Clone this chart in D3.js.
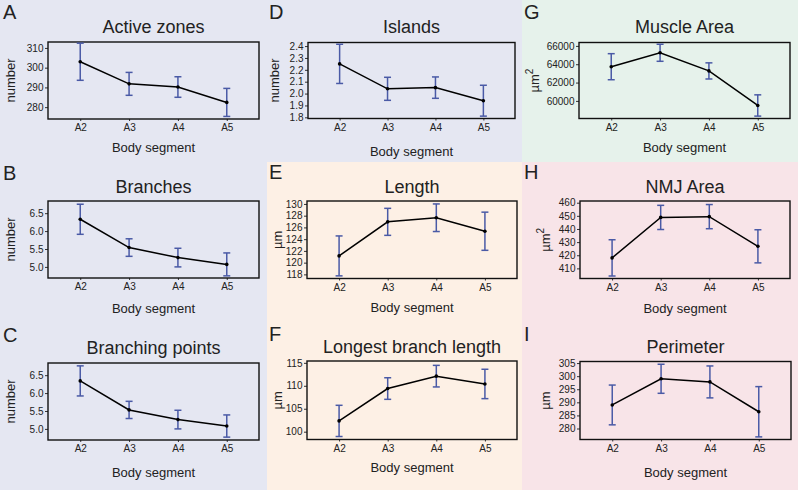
<!DOCTYPE html>
<html>
<head>
<meta charset="utf-8">
<script src="https://cdn.jsdelivr.net/npm/d3@7"></script>
<style>
  html, body { margin: 0; padding: 0; background: #fff; }
  svg { display: block; font-family: "Liberation Sans", Arial, Helvetica, sans-serif; }
</style>
</head>
<body>
<svg id="chart" width="798" height="490"></svg>
<script>
// ---------- DATA ----------
const segments = ["A2", "A3", "A4", "A5"];

const activeZonesMean = [303, 291.8, 290.2, 282.4];
const activeZonesErr  = [9.4, 5.8, 5.2, 7.1];
const activeZonesTicks = [280, 290, 300, 310];

const branchesMean = [6.33, 5.54, 5.26, 5.07];
const branchesErr  = [0.42, 0.245, 0.26, 0.32];
const branchesTicks = [5.0, 5.5, 6.0, 6.5];

const branchingPointsMean = [6.34, 5.53, 5.26, 5.08];
const branchingPointsErr  = [0.42, 0.24, 0.26, 0.31];
const branchingPointsTicks = [5.0, 5.5, 6.0, 6.5];

const islandsMean = [2.25, 2.04, 2.05, 1.94];
const islandsErr  = [0.165, 0.097, 0.09, 0.13];
const islandsTicks = [1.8, 1.9, 2.0, 2.1, 2.2, 2.3, 2.4];

const lengthMean = [121.15, 126.95, 127.65, 125.35];
const lengthErr  = [3.4, 2.3, 2.35, 3.25];
const lengthTicks = [118, 120, 122, 124, 126, 128, 130];

const longestBranchMean = [102.35, 109.4, 112.1, 110.4];
const longestBranchErr  = [3.4, 2.35, 2.35, 3.2];
const longestBranchTicks = [100, 105, 110, 115];

const muscleAreaMean = [63730, 65250, 63270, 59500];
const muscleAreaErr  = [1420, 930, 880, 1160];
const muscleAreaTicks = [60000, 62000, 64000, 66000];

const nmjAreaMean = [418, 448.8, 449.4, 426.8];
const nmjAreaErr  = [13.8, 9.2, 9.2, 12.6];
const nmjAreaTicks = [410, 420, 430, 440, 450, 460];

const perimeterMean = [289, 299, 297.8, 286.4];
const perimeterErr  = [7.6, 5.55, 6.1, 9.6];
const perimeterTicks = [280, 285, 290, 295, 300, 305];

// ---------- LAYOUT ----------
const svg = d3.select("#chart");

const backgrounds = [
  { x: 0,   y: 0,   w: 267, h: 490, fill: "#e5e7f2" },
  { x: 267, y: 0,   w: 255, h: 162, fill: "#e5e7f2" },
  { x: 267, y: 162, w: 255, h: 328, fill: "#fdf0e5" },
  { x: 522, y: 0,   w: 276, h: 162, fill: "#e6f2eb" },
  { x: 522, y: 162, w: 276, h: 328, fill: "#f8e4e8" }
];
svg.selectAll("rect.bg").data(backgrounds).join("rect")
  .attr("class", "bg")
  .attr("x", d => d.x).attr("y", d => d.y)
  .attr("width", d => d.w).attr("height", d => d.h)
  .attr("fill", d => d.fill);

const panels = [
  { letter: "A", title: "Active zones", ylab: "number", mean: activeZonesMean, err: activeZonesErr,
    ticks: activeZonesTicks, fmt: d3.format("d"), domain: [274, 313],
    box: [48, 42, 259, 119], lx: 3, ly: 19, ylx: 10, xly: 152, ty: 33 },
  { letter: "B", title: "Branches", ylab: "number", mean: branchesMean, err: branchesErr,
    ticks: branchesTicks, fmt: d3.format(".1f"), domain: [4.69, 6.84],
    box: [48, 201, 259, 278], lx: 3, ly: 180, ylx: 10, xly: 313, ty: 193 },
  { letter: "C", title: "Branching points", ylab: "number", mean: branchingPointsMean, err: branchingPointsErr,
    ticks: branchingPointsTicks, fmt: d3.format(".1f"), domain: [4.69, 6.84],
    box: [48, 363, 259, 440], lx: 3, ly: 342, ylx: 10, xly: 477, ty: 354 },
  { letter: "D", title: "Islands", ylab: "number", mean: islandsMean, err: islandsErr,
    ticks: islandsTicks, fmt: d3.format(".1f"), domain: [1.79, 2.43],
    box: [308, 42.5, 515, 118.5], lx: 269, ly: 19, ylx: 274, xly: 156, ty: 33 },
  { letter: "E", title: "Length", ylab: "µm", mean: lengthMean, err: lengthErr,
    ticks: lengthTicks, fmt: d3.format("d"), domain: [117.3, 130.5],
    box: [307, 201, 517, 278.5], lx: 269, ly: 179, ylx: 277, xly: 312, ty: 193 },
  { letter: "F", title: "Longest branch length", ylab: "µm", mean: longestBranchMean, err: longestBranchErr,
    ticks: longestBranchTicks, fmt: d3.format("d"), domain: [98.3, 115.4],
    box: [307, 361, 517, 439.5], lx: 269, ly: 341, ylx: 277, xly: 472, ty: 353 },
  { letter: "G", title: "Muscle Area", ylab: "µm", sup: "2", mean: muscleAreaMean, err: muscleAreaErr,
    ticks: muscleAreaTicks, fmt: d3.format("d"), domain: [58080, 66370],
    box: [579, 42.5, 790, 118.5], lx: 524, ly: 19, ylx: 534, xly: 152, ty: 33 },
  { letter: "H", title: "NMJ Area", ylab: "µm", sup: "2", mean: nmjAreaMean, err: nmjAreaErr,
    ticks: nmjAreaTicks, fmt: d3.format("d"), domain: [402.3, 461.3],
    box: [580, 201, 790, 278.5], lx: 524, ly: 179, ylx: 545, xly: 313, ty: 193 },
  { letter: "I", title: "Perimeter", ylab: "µm", mean: perimeterMean, err: perimeterErr,
    ticks: perimeterTicks, fmt: d3.format("d"), domain: [275.8, 305.6],
    box: [580, 361.5, 791, 439.5], lx: 524, ly: 341, ylx: 545, xly: 477, ty: 353 }
];

const errColor = "#4a5aa6";

panels.forEach(p => {
  const [x0, y0, x1, y1] = p.box;
  const g = svg.append("g");

  const x = d3.scalePoint().domain(segments).range([x0, x1]).padding(0.66);
  const y = d3.scaleLinear().domain(p.domain).range([y1, y0]);

  // panel letter
  g.append("text").attr("x", p.lx).attr("y", p.ly)
    .attr("font-size", 20).attr("fill", "#222").text(p.letter);

  // title
  g.append("text").attr("x", (x0 + x1) / 2).attr("y", p.ty)
    .attr("text-anchor", "middle").attr("font-size", 18).attr("fill", "#222").text(p.title);

  // y axis
  const yAxis = g.append("g").attr("transform", `translate(${x0},0)`)
    .call(d3.axisLeft(y).tickValues(p.ticks).tickFormat(p.fmt).tickSize(3).tickPadding(1.5));
  yAxis.select(".domain").remove();
  yAxis.selectAll("text").attr("font-size", 10).attr("fill", "#222")
    .attr("font-family", "Liberation Sans, Arial, sans-serif");
  yAxis.selectAll("line").attr("stroke", "#333");

  // x axis
  const xAxis = g.append("g").attr("transform", `translate(0,${y1})`)
    .call(d3.axisBottom(x).tickSize(2).tickPadding(3));
  xAxis.select(".domain").remove();
  xAxis.selectAll("text").attr("font-size", 10).attr("fill", "#222")
    .attr("font-family", "Liberation Sans, Arial, sans-serif");
  xAxis.selectAll("line").attr("stroke", "#333");

  // frame
  g.append("rect").attr("x", x0).attr("y", y0)
    .attr("width", x1 - x0).attr("height", y1 - y0)
    .attr("fill", "none").attr("stroke", "#111").attr("stroke-width", 1.4);

  const pts = segments.map((s, i) => ({ s, m: p.mean[i], e: p.err[i] }));

  // error bars
  const eb = g.append("g").attr("stroke", errColor).attr("stroke-width", 1.5);
  eb.selectAll("line.v").data(pts).join("line").attr("class", "v")
    .attr("x1", d => x(d.s)).attr("x2", d => x(d.s))
    .attr("y1", d => y(d.m - d.e)).attr("y2", d => y(d.m + d.e));
  eb.selectAll("line.t").data(pts).join("line").attr("class", "t")
    .attr("x1", d => x(d.s) - 3.5).attr("x2", d => x(d.s) + 3.5)
    .attr("y1", d => y(d.m + d.e)).attr("y2", d => y(d.m + d.e));
  eb.selectAll("line.b").data(pts).join("line").attr("class", "b")
    .attr("x1", d => x(d.s) - 3.5).attr("x2", d => x(d.s) + 3.5)
    .attr("y1", d => y(d.m - d.e)).attr("y2", d => y(d.m - d.e));

  // mean line
  g.append("path").datum(pts)
    .attr("fill", "none").attr("stroke", "#000").attr("stroke-width", 1.5)
    .attr("d", d3.line().x(d => x(d.s)).y(d => y(d.m)));
  g.selectAll("circle.pt").data(pts).join("circle").attr("class", "pt")
    .attr("cx", d => x(d.s)).attr("cy", d => y(d.m)).attr("r", 1.8).attr("fill", "#000");

  // axis labels
  g.append("text").attr("x", (x0 + x1) / 2).attr("y", p.xly)
    .attr("text-anchor", "middle").attr("font-size", 13).attr("fill", "#222").text("Body segment");

  const yl = g.append("text")
    .attr("transform", `translate(${p.ylx},${(y0 + y1) / 2}) rotate(-90)`)
    .attr("text-anchor", "middle").attr("dominant-baseline", "central")
    .attr("font-size", 13).attr("fill", "#222");
  yl.append("tspan").text(p.ylab);
  if (p.sup) {
    yl.append("tspan").attr("font-size", 10).attr("dy", -5).text(p.sup);
  }
});
</script>
</body>
</html>
